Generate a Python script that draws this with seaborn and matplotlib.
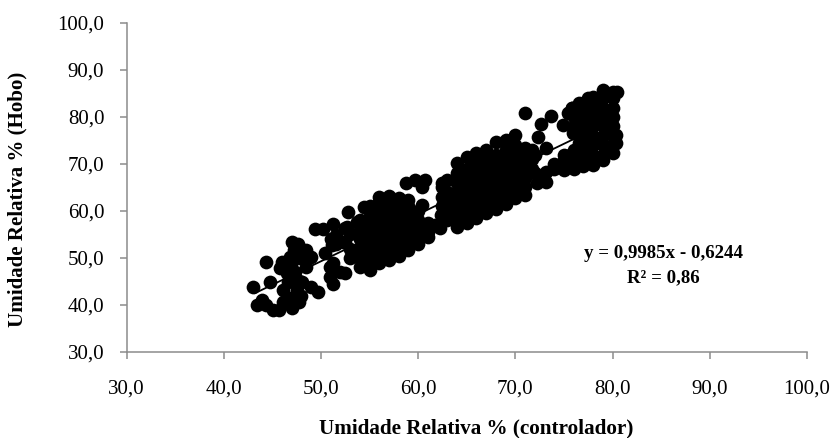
import matplotlib
matplotlib.use("Agg")
import matplotlib.pyplot as plt
import seaborn as sns
import pandas as pd

sns.set_theme(style="white")
plt.rcParams['font.family'] = ['Liberation Serif', 'DejaVu Serif']

left_x = [43,44.3,44.8,43.9,43.4,44.4,45.1,45.7,47,47.6,48.5,49,48.5,46,46.8,45.8,48.1,49.7,49,46.1,46.1,47,47.7,47.5,46.5,47.3,47.2,47.8,46.9,48,46.7,46.6,47.7]
left_y = [43.8,49.1,44.9,41,40,40,38.9,39,53.4,53,51.7,50.2,48.1,49.1,50.2,47.9,44.9,42.8,43.8,43.2,40.6,39.4,40.6,43.2,46.8,47,51.8,50,48.5,42,41.5,44.8,45.2]
mid_x = [49.4,50.2,51.2,52.7,51.6,52.5,50.4,51.1,50.9,50.9,51.2,52.5,51.2,52,52.8,53,53,53,53.7,52.3,52.5,51,51.6]
mid_y = [56.2,56.2,57.2,56.6,54.9,53.5,51,52.8,48.1,46,44.5,46.8,48.9,47,59.8,50,52,55,57.7,53.4,56.4,54,53]
band1_x = [54,54,54,54,54,54,54.4,55,55,55,55,55,55,55,55,56,56,56,56,56,56,56,56,56,57,57,57,57,57,57,57,57,58,58,58,58,58,58,58,58,59,59,59,59,59,59,59,60,60,60,60,60,60.4,61,61,61,62.2,62.4,61.7,58.8,59.7,60.7,60.4]
band1_y = [48.1,50,52,54,56,58,60.9,47.4,49,51,53,55,57,59,61,48.9,50,52,54,56,58,60,62,63,49.5,51,53,55,57,59,61,63.2,50.5,52,54,56,58,60,62,62.8,51.7,53,55,57,59,61,62.3,53,54,56,58,60,61.3,54.5,55.5,57.4,56.4,59.1,57,66,66.6,66.6,65.1]
band2_x = [62.5,62.5,62.5,62.5,63,63,63,63,63,64,64,64,64,64,64,64,64,65,65,65,65,65,65,65,65,66,66,66,66,66,66,66,66,67,67,67,67,67,67,67,67,68,68,68,68,68,68,68,68,69,69,69,69,69,69,69,69,70,70,70,70,70,70,70,70,71,71,71,71,71,71,71]
band2_y = [61,63,65,66,58,60,62,64,66.5,56.6,58,60,62,64,66,68,70.2,57.5,59,61,63,65,67,69,71.5,58.5,60,62,64,66,68,70,72.3,59.5,61,63,65,67,69,71,73,60.5,62,64,66,68,70,72,74.7,61.5,63,65,67,69,71,73,75,62.8,64,66,68,70,72,74,76.2,63.5,65,67,69,71,73.5,80.9]
band3_x = [72.2,72,73.2,73.2,73.2,72.3,72.6,73.7,74,74.9,75.8,75.4,75,75,75,75.6,76,76,76,75.9,76,76,75.8,77,77,77,77,77,77,77,77,78,78,78,78,78,78,78,78,79,79,79,79,79,79,79,79,79,80,80,80,80,80,80,80,80,80.5,80.4,80.4,74.9]
band3_y = [66,68,68.2,66.2,73.4,75.8,78.5,80.2,69,78.3,81.9,80.8,68.7,70.4,72,71.9,69,71,73,76.6,78,80,81.9,69.5,71,73,75,77,79,81,83,69.8,72,74,76,78,80,82,84.3,70.9,72,74,76,78,80,82,84,85.7,72.3,74,76.2,78,80,82,84,85.3,85.3,76.2,74.5,70.4]
extra_x = [71.7,71.7,72,71.7,72.5,74,74.5,77.5,77.5,77.5,77.5,78.5,78.5,78.5,78.5,79.5,79.5,76.5,76.5,76.5,76.5]
extra_y = [69,71,72,73,67.5,70,69.5,72,76,80,84,71,75,79,83,73,77,74.5,79,81,83]

line_x = [43.2, 80]
line_y = [42.5, 79.3]

x_ticks = [30,40,50,60,70,80,90,100]
y_ticks = [30,40,50,60,70,80,90,100]

df = pd.DataFrame({"x": left_x+mid_x+band1_x+band2_x+band3_x+extra_x,
                   "y": left_y+mid_y+band1_y+band2_y+band3_y+extra_y})

fig = plt.figure(figsize=(8.38,4.38), dpi=100)
ax = fig.add_axes([126.5/838, (438-352)/438, (807-126.5)/838, (352-23)/438])
sns.scatterplot(data=df, x="x", y="y", ax=ax, color="black", s=98, linewidth=0, clip_on=False)
sns.lineplot(x=line_x, y=line_y, ax=ax, color="black", linewidth=1.3)
ax.set_xlim(30,100); ax.set_ylim(30,100)
ax.set_xticks(x_ticks); ax.set_yticks(y_ticks)
ax.set_xticklabels([f"{v},0" for v in x_ticks], fontsize=15)
ax.set_yticklabels([f"{v},0" for v in y_ticks], fontsize=15)
for s in ("top","right"):
    ax.spines[s].set_visible(False)
for s in ("left","bottom"):
    ax.spines[s].set_color("#8c8c8c"); ax.spines[s].set_linewidth(1.1)
ax.tick_params(axis="x", which="major", direction="out", length=5, width=1.1, color="#8c8c8c", labelcolor="black", bottom=True, pad=15)
ax.tick_params(axis="y", which="major", direction="out", length=5, width=1.1, color="#8c8c8c", labelcolor="black", left=True, pad=11)
ax.set_xlabel(""); ax.set_ylabel("")
fig.text(476/838, 1-428/438, "Umidade Relativa % (controlador)", ha="center", va="center", fontsize=15.2, fontweight="bold", color="black")
fig.text(17/838, 1-199/438, "Umidade Relativa % (Hobo)", ha="center", va="center", rotation=90, fontsize=15.1, fontweight="bold", color="black")
fig.text(663/838, 1-253/438, "y = 0,9985x - 0,6244", ha="center", va="center", fontsize=13.6, fontweight="bold", color="black")
fig.text(663/838, 1-278/438, "R² = 0,86", ha="center", va="center", fontsize=13.6, fontweight="bold", color="black")
fig.savefig("out.png", dpi=100)
